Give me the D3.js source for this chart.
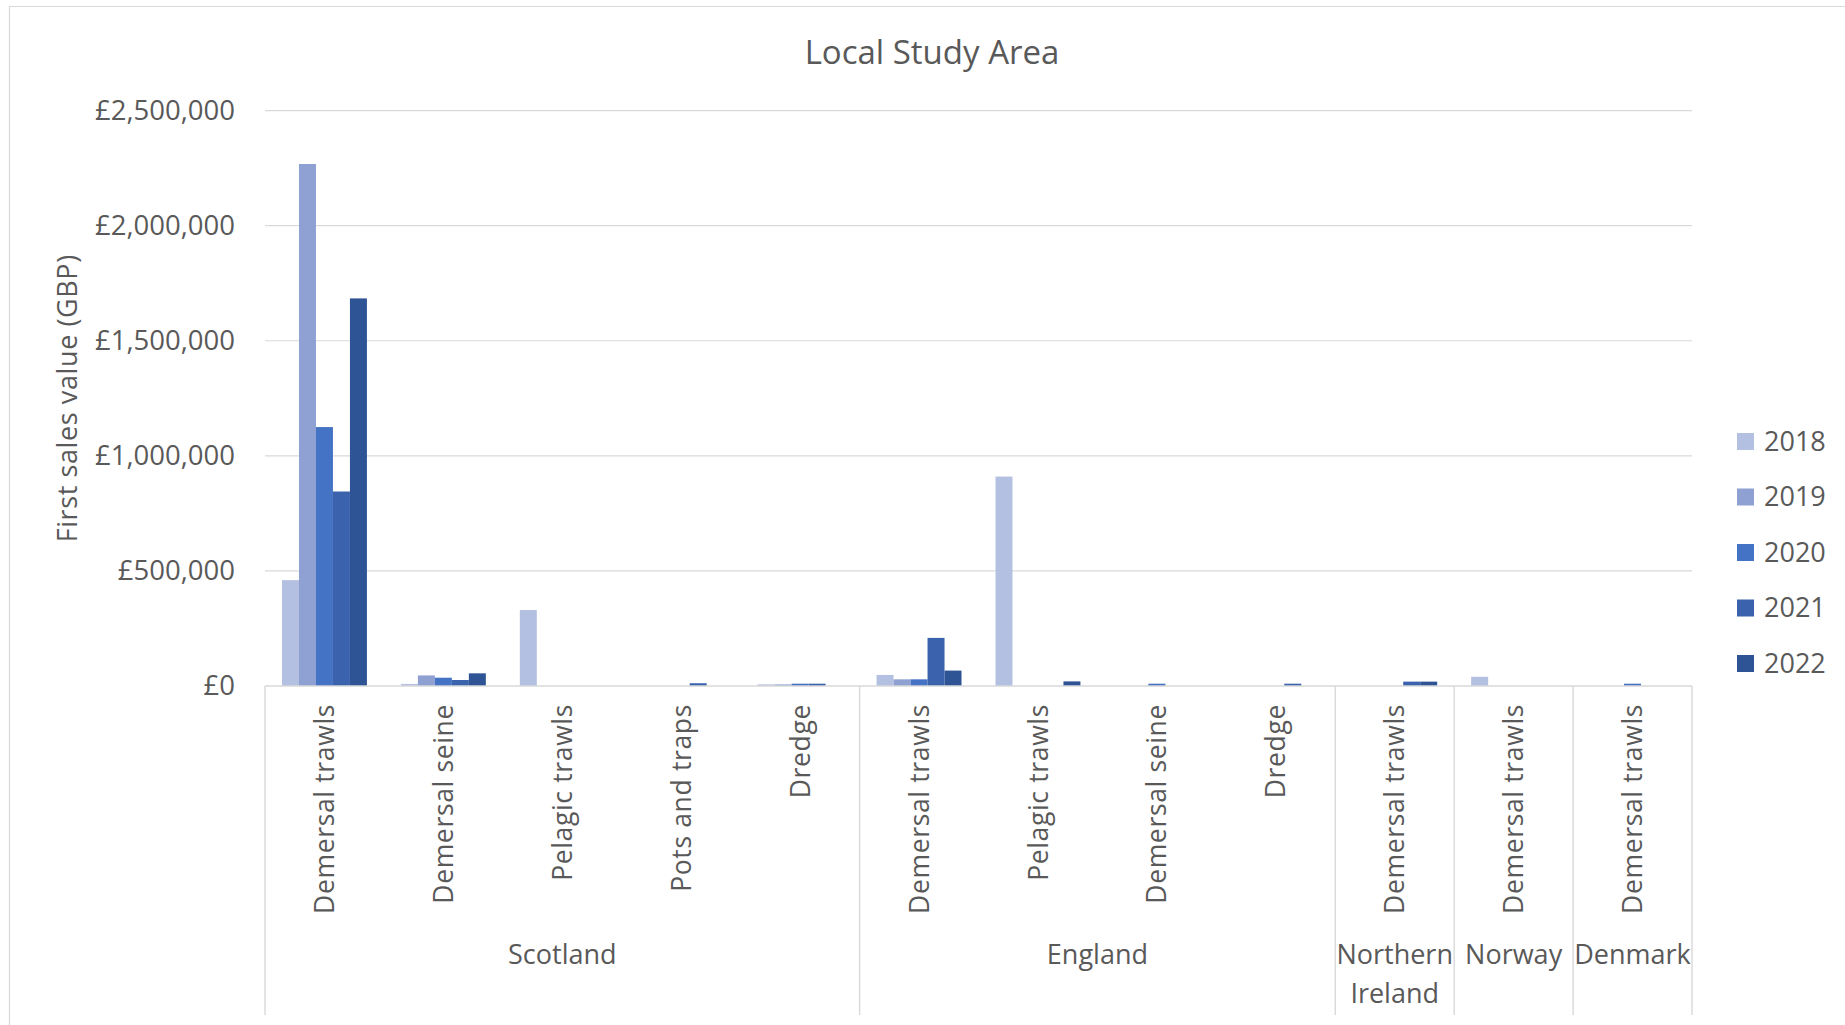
<!DOCTYPE html>
<html>
<head>
<meta charset="utf-8">
<title>Local Study Area</title>
<script src="https://cdn.jsdelivr.net/npm/d3@7"></script>
<style>
  html, body { margin: 0; padding: 0; background: #ffffff; }
  svg { display: block; }
  text { font-family: "Open Sans", "Noto Sans", sans-serif; fill: #595959; }
</style>
</head>
<body>
<svg id="chart" width="1845" height="1025"></svg>
<script>
// Gear types, grouped by the nation of the fishing fleet
const groups = ["Scotland", "England", "Northern Ireland", "Norway", "Denmark"];
const groupLabelLines = [["Scotland"], ["England"], ["Northern", "Ireland"], ["Norway"], ["Denmark"]];
const gears = [
  ["Scotland", "Demersal trawls"],
  ["Scotland", "Demersal seine"],
  ["Scotland", "Pelagic trawls"],
  ["Scotland", "Pots and traps"],
  ["Scotland", "Dredge"],
  ["England", "Demersal trawls"],
  ["England", "Pelagic trawls"],
  ["England", "Demersal seine"],
  ["England", "Dredge"],
  ["Northern Ireland", "Demersal trawls"],
  ["Norway", "Demersal trawls"],
  ["Denmark", "Demersal trawls"]
];

// First sales value (GBP) per year, in the same order as the gear list
const years = ["2018", "2019", "2020", "2021", "2022"];
const values2018 = [460000, 9000, 330000, 0, 7000, 48000, 910000, 0, 0, 0, 40000, 0];
const values2019 = [2268000, 46000, 0, 0, 7000, 29000, 0, 0, 0, 0, 0, 0];
const values2020 = [1125000, 36000, 0, 0, 10000, 29000, 0, 10000, 0, 0, 0, 10000];
const values2021 = [845000, 26000, 0, 12000, 10000, 209000, 0, 0, 10000, 19000, 0, 0];
const values2022 = [1684000, 55000, 0, 0, 0, 67000, 20000, 0, 0, 19000, 0, 0];
const seriesValues = [values2018, values2019, values2020, values2021, values2022];
const yTicks = [0, 500000, 1000000, 1500000, 2000000, 2500000];
const colors = ["#b4c0e1", "#8fa1d2", "#4472c4", "#3a62ad", "#2f5496"];

const svg = d3.select("#chart");
const gridColor = "#d9d9d9";

// Chart frame
svg.append("path")
  .attr("d", "M9.5,1025 V6.5 H1845")
  .attr("fill", "none")
  .attr("stroke", gridColor)
  .attr("stroke-width", 1.2);

const plot = { left: 265, right: 1692, top: 110.6, bottom: 686 };
const labelBottom = 1015;

const keys = gears.map((g, i) => i);
const x0 = d3.scaleBand().domain(keys).range([plot.left, plot.right]).paddingInner(0).paddingOuter(0);
const x1 = d3.scaleBand().domain(years).range([0, x0.bandwidth()]).paddingInner(0).paddingOuter(1);
const y = d3.scaleLinear().domain([0, 2500000]).range([plot.bottom, plot.top]);
const color = d3.scaleOrdinal().domain(years).range(colors);

// Title
svg.append("text")
  .attr("x", 932).attr("y", 52)
  .attr("text-anchor", "middle").attr("dy", "0.35em")
  .style("font-size", "33px")
  .text("Local Study Area");

// Horizontal gridlines
svg.append("g").selectAll("line")
  .data(yTicks.filter(t => t > 0))
  .join("line")
  .attr("x1", plot.left).attr("x2", plot.right)
  .attr("y1", d => y(d)).attr("y2", d => y(d))
  .attr("stroke", gridColor).attr("stroke-width", 1.2);

// Value axis labels
const yAxis = d3.axisLeft(y).tickValues(yTicks).tickSize(0).tickPadding(30)
  .tickFormat(d => "£" + d3.format(",")(d));
svg.append("g")
  .attr("transform", `translate(${plot.left},0)`)
  .call(yAxis)
  .call(g => g.select(".domain").remove())
  .call(g => g.selectAll("text")
    .attr("fill", "#595959")
    .style("font-family", '"Open Sans", "Noto Sans", sans-serif')
    .style("font-size", "27.5px"));

// Value axis title
svg.append("text")
  .attr("transform", `translate(68,${(plot.top + plot.bottom) / 2}) rotate(-90)`)
  .attr("text-anchor", "middle").attr("dy", "0.35em")
  .style("font-size", "27px")
  .style("letter-spacing", "0.6px")
  .text("First sales value (GBP)");

// Bars
const barData = [];
gears.forEach((g, i) => {
  years.forEach((yr, s) => {
    barData.push({ key: i, year: yr, value: seriesValues[s][i] });
  });
});
svg.append("g").selectAll("rect")
  .data(barData.filter(d => d.value > 0))
  .join("rect")
  .attr("x", d => x0(d.key) + x1(d.year))
  .attr("width", x1.bandwidth())
  .attr("y", d => y(d.value))
  .attr("height", d => y(0) - y(d.value))
  .attr("fill", d => color(d.year));

// Category axis line
svg.append("line")
  .attr("x1", plot.left).attr("x2", plot.right)
  .attr("y1", y(0)).attr("y2", y(0))
  .attr("stroke", gridColor).attr("stroke-width", 1.4);

// Gear labels, rotated
svg.append("g").selectAll("text")
  .data(gears.map((g, i) => ({ key: i, label: g[1] })))
  .join("text")
  .attr("transform", d => `translate(${x0(d.key) + x0.bandwidth() / 2},704) rotate(-90)`)
  .attr("text-anchor", "end").attr("dy", "0.36em")
  .style("font-size", "26.5px")
  .style("letter-spacing", "0.65px")
  .text(d => d.label);

// Nation group spans and dividers
const spans = groups.map((grp, gi) => {
  const idx = gears.map((g, i) => g[0] === grp ? i : -1).filter(i => i >= 0);
  return {
    name: grp,
    lines: groupLabelLines[gi],
    x0: x0(idx[0]),
    x1: x0(idx[idx.length - 1]) + x0.bandwidth()
  };
});
const dividerXs = [spans[0].x0].concat(spans.map(s => s.x1));
svg.append("g").selectAll("line")
  .data(dividerXs)
  .join("line")
  .attr("x1", d => d).attr("x2", d => d)
  .attr("y1", y(0)).attr("y2", labelBottom)
  .attr("stroke", gridColor).attr("stroke-width", 1.4);

const groupText = svg.append("g").selectAll("text")
  .data(spans)
  .join("text")
  .attr("x", d => (d.x0 + d.x1) / 2)
  .attr("y", 955)
  .attr("text-anchor", "middle")
  .style("font-size", "27px");
groupText.selectAll("tspan")
  .data(d => d.lines.map((l, i) => ({ l, i, x: (d.x0 + d.x1) / 2 })))
  .join("tspan")
  .attr("x", d => d.x)
  .attr("dy", d => d.i === 0 ? "0.35em" : "39px")
  .text(d => d.l);

// Legend
const legend = svg.append("g").selectAll("g")
  .data(years)
  .join("g")
  .attr("transform", (d, i) => `translate(1737,${441.5 + i * 55.5})`);
legend.append("rect")
  .attr("x", 0).attr("y", -8.5)
  .attr("width", 17).attr("height", 17)
  .attr("fill", d => color(d));
legend.append("text")
  .attr("x", 27).attr("dy", "0.35em")
  .style("font-size", "27px")
  .text(d => d);
</script>
</body>
</html>
